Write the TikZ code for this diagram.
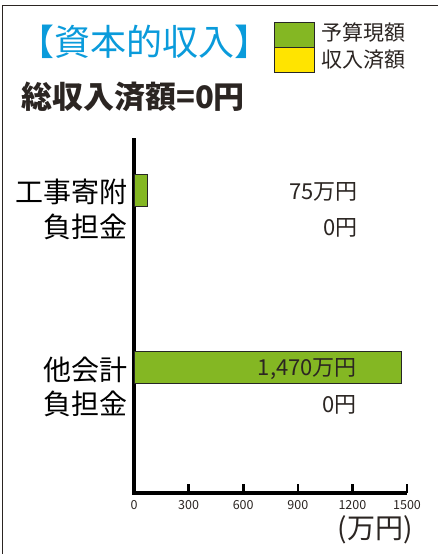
\documentclass[tikz,border=0pt]{standalone}
\usepackage{fontspec}
\setmainfont{Noto Sans CJK JP}
\definecolor{titleblue}{HTML}{0A9BDB}
\definecolor{budgetgreen}{HTML}{84B723}
\definecolor{doneyellow}{HTML}{FFE400}
\definecolor{inkgray}{HTML}{2B2522}
\tikzset{
  catlabel/.style={anchor=east, inner sep=0pt, font=\fontsize{28}{30}\selectfont},
  amount/.style={anchor=east, inner sep=0pt, text=inkgray, font=\fontsize{22}{24}\selectfont},
  ticklabel/.style={inner sep=0pt, text=inkgray, font=\fontsize{12.5}{14}\selectfont},
  legendtext/.style={anchor=west, inner sep=0pt, text=inkgray, font=\fontsize{21}{23}\selectfont},
  barbox/.style={draw=black!85, line width=0.8pt, fill=budgetgreen}
}
\begin{document}
\begin{tikzpicture}[x=1pt,y=-1pt]
        \useasboundingbox (0,0) rectangle (438,554);
        \draw[line width=1pt, inkgray] (2,554) -- (2,5) -- (438,5);
        % title and total
        \node[anchor=west, inner sep=0pt, text=titleblue, font=\fontsize{36}{38}\selectfont] (title) at (18,42) {【資本的収入】};
        \node[anchor=west, inner sep=0pt, text=inkgray, font=\bfseries\fontsize{31}{33}\selectfont] (total) at (21,97) {総収入済額=0円};
        % legend
        \draw[barbox] (274,22) rectangle (314,47);
        \draw[barbox, fill=doneyellow] (274,47) rectangle (314,72);
        \node[legendtext] (lbudget) at (321,33) {予算現額};
        \node[legendtext] (ldone) at (321,60) {収入済額};
        % axes
        \coordinate (origin) at (134,493);
        \coordinate (ytop) at (134,138);
        \coordinate (xend) at (407,493);
        \draw[line width=3.2pt] (ytop) -- (origin) -- (xend);
        \foreach \v in {300,600,...,1500}
            \draw[line width=2.6pt] ({134+0.182*\v},493) -- ++(0,-9);
        \foreach \v in {0,300,...,1500}
            \node[ticklabel] (t\v) at ({134+0.182*\v},505) {\v};
        \node[anchor=east, inner sep=0pt, text=inkgray, font=\fontsize{28}{30}\selectfont] (unit) at (413,530) {(万円)};
        % bars
        \draw[barbox] (134,174.5) rectangle (147.7,206);
        \draw[barbox] (134,351.5) rectangle (401.5,383);
        % categories
        \node[catlabel] (c1a) at (128,192) {工事寄附};
        \node[catlabel] (c1b) at (128,227) {負担金};
        \node[catlabel] (c2a) at (128,370) {他会計};
        \node[catlabel] (c2b) at (128,404) {負担金};
        % amounts
        \node[amount] (b1) at (358,192) {75万円};
        \node[amount] (d1) at (358,228) {0円};
        \node[amount] (b2) at (357,369) {1,470万円};
        \node[amount] (d2) at (357,405) {0円};
\end{tikzpicture}
\end{document}
